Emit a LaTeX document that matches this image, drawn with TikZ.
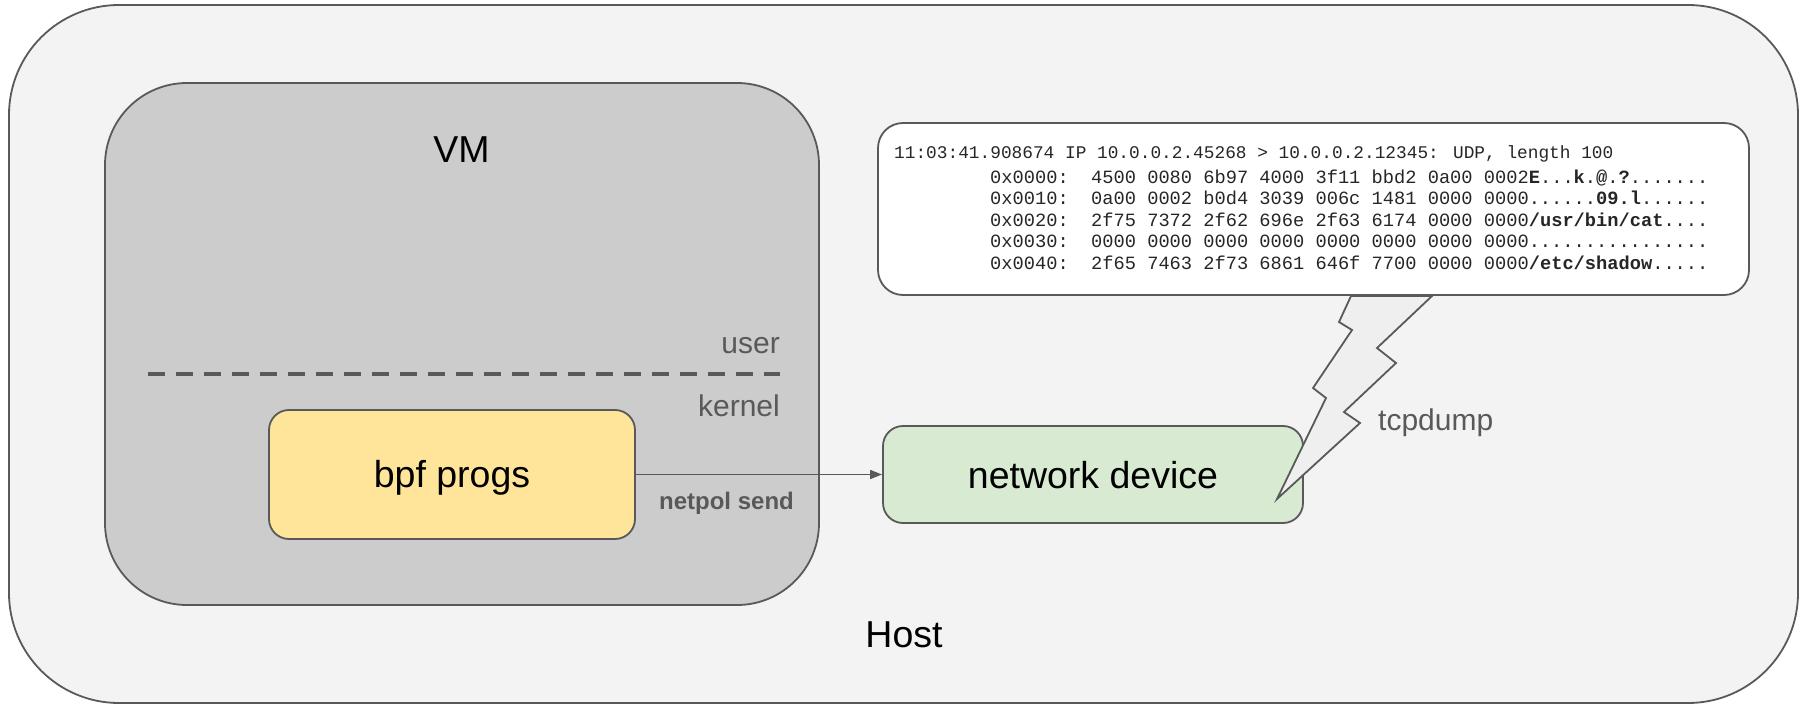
\documentclass[tikz,border=0pt]{standalone}
\usepackage{fontspec}
\setmainfont{Liberation Sans}
\newfontfamily\dumpfont{Liberation Mono}
\usetikzlibrary{arrows.meta}

\definecolor{edge}{HTML}{595959}
\definecolor{hostfill}{HTML}{F3F3F3}
\definecolor{vmfill}{HTML}{CCCCCC}
\definecolor{bpffill}{HTML}{FFE599}
\definecolor{devfill}{HTML}{D9EAD3}
\definecolor{boltfill}{HTML}{EFEFEF}

\newcommand\biglbl{\fontsize{37.5}{45}\selectfont}
\newcommand\smalllbl{\fontsize{30}{36}\selectfont}
\newcommand\edgelbl{\fontsize{24}{29}\selectfont\bfseries}

\begin{document}
\begin{tikzpicture}[x=1pt,y=-1pt,
  frame/.style={draw=edge, line width=1.8pt, inner sep=0pt},
  graytext/.style={text=edge, inner sep=0pt, font=\smalllbl},
  blacktext/.style={text=black, inner sep=0pt, font=\biglbl},
  dumphead/.style={anchor=base west, inner sep=0pt, text=black!85,
    font=\dumpfont\fontsize{17.8}{17.8}\selectfont},
  dumpline/.style={anchor=base west, inner sep=0pt, text=black!85,
    font=\dumpfont\fontsize{18.7}{18.7}\selectfont},
  conn/.style={draw=edge, line width=1.6pt, -{Triangle[length=12pt,width=9pt]}}]
\useasboundingbox (0,0) rectangle (1805,706);

% outer host and the VM inside it
\node[frame, fill=hostfill, rounded corners=110pt,
      minimum width=1789pt, minimum height=698pt] (host) at (903.5,354) {};
\node[blacktext, anchor=base] (hostlbl) at (904,647) {Host};

\node[frame, fill=vmfill, rounded corners=82pt,
      minimum width=714pt, minimum height=522pt] (vm) at (462,344) {};
\node[blacktext, anchor=base] (vmlbl) at (461.5,163) {VM};

% user / kernel boundary
\coordinate (splitL) at (148,374);
\coordinate (splitR) at (780,374);
\draw[edge, line width=4pt, dash pattern=on 17pt off 11pt] (splitL) -- (splitR);
\node[graytext, anchor=base east] (userlbl) at (780,353) {user};
\node[graytext, anchor=base east] (kernlbl) at (780,416) {kernel};

% programs and device
\node[frame, fill=bpffill, rounded corners=20pt, font=\biglbl,
      minimum width=366pt, minimum height=129pt,
      text height=25pt, text depth=0pt] (bpf) at (452,474.5) {bpf progs};
\node[frame, fill=devfill, rounded corners=20pt, font=\biglbl,
      minimum width=420pt, minimum height=97pt,
      text height=27pt, text depth=0pt] (netdev) at (1093,474.5) {network device};

\draw[conn] (bpf.east) -- (netdev.west);
\node[text=edge, inner sep=0pt, font=\edgelbl, anchor=base] (sendlbl) at (726.5,509) {netpol send};

% capture bolt from the device up to the dump
\draw[draw=edge, line width=1.8pt, fill=boltfill, line join=miter]
  (1351,296) -- (1339,322) -- (1352,330) -- (1313,388) -- (1326,398)
  -- (1277,499) -- (1360,423) -- (1344,412) -- (1396,363) -- (1377,348)
  -- (1432,296) -- cycle;
\node[graytext, anchor=base west] (tcplbl) at (1378,430) {tcpdump};

% packet dump
\node[frame, fill=white, rounded corners=25pt,
      minimum width=871pt, minimum height=172pt] (dumpbox) at (1313.5,209) {};
\node[dumphead] (d0) at (894,159)
  {11:03:41.908674 IP 10.0.0.2.45268 > 10.0.0.2.12345: UDP, length 100};
\node[dumpline] (d1) at (990,183)
  {0x0000:\ \ 4500 0080 6b97 4000 3f11 bbd2 0a00 0002\textbf{E}...\textbf{k}.\textbf{@}.\textbf{?}.......};
\node[dumpline] (d2) at (990,204.5)
  {0x0010:\ \ 0a00 0002 b0d4 3039 006c 1481 0000 0000......\textbf{09.l}......};
\node[dumpline] (d3) at (990,226)
  {0x0020:\ \ 2f75 7372 2f62 696e 2f63 6174 0000 0000\textbf{/usr/bin/cat}....};
\node[dumpline] (d4) at (990,247.5)
  {0x0030:\ \ 0000 0000 0000 0000 0000 0000 0000 0000................};
\node[dumpline] (d5) at (990,269)
  {0x0040:\ \ 2f65 7463 2f73 6861 646f 7700 0000 0000\textbf{/etc/shadow}.....};
\end{tikzpicture}
\end{document}
